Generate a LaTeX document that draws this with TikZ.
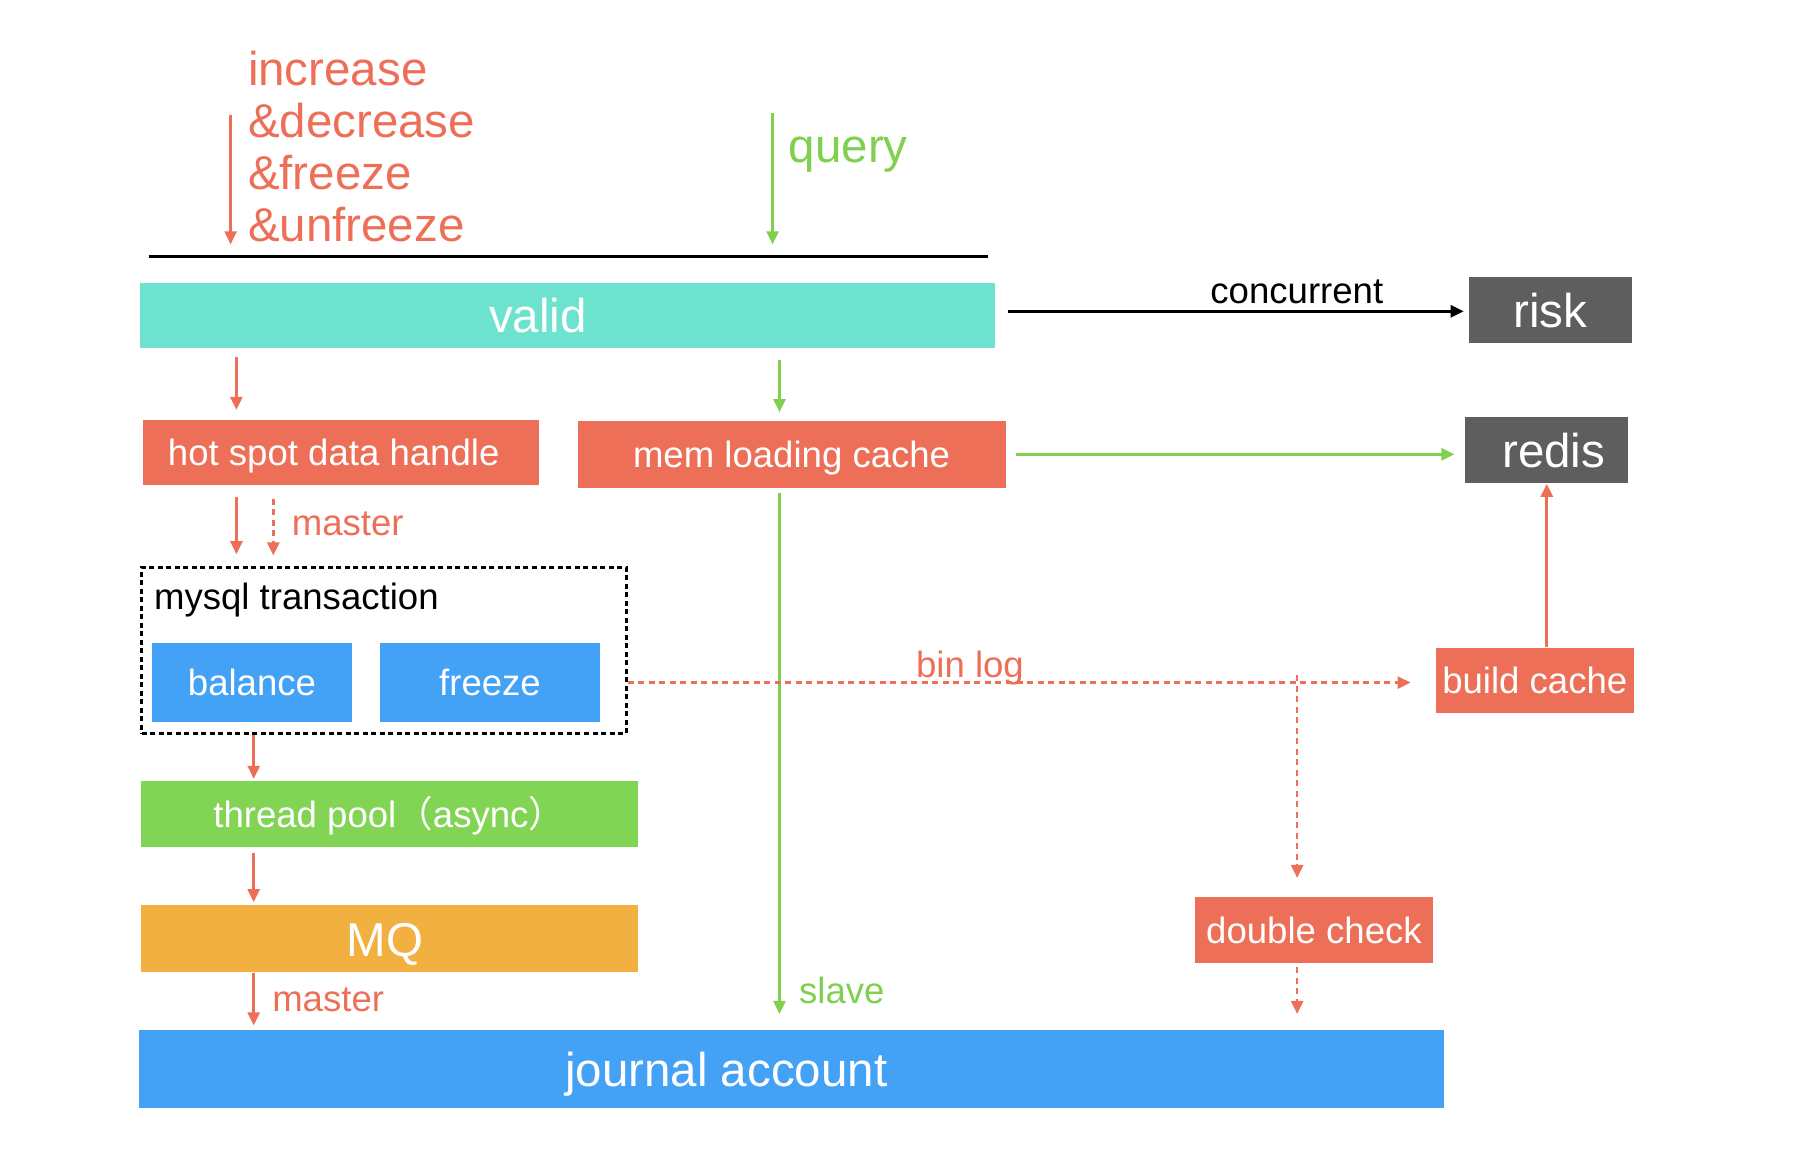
\documentclass[tikz,border=0pt]{standalone}
\usepackage{fontspec}
\setmainfont{Liberation Sans}
\newfontfamily\cjk{Noto Sans CJK SC}
\usetikzlibrary{arrows.meta,positioning,calc}
\definecolor{cred}{HTML}{EE6F58}
\definecolor{cteal}{HTML}{6CE2CF}
\definecolor{cblue}{HTML}{44A2F6}
\definecolor{cgreen}{HTML}{82D455}
\definecolor{cline}{HTML}{7ED04E}
\definecolor{corange}{HTML}{F2B040}
\definecolor{cgray}{HTML}{5E5E5E}
\newcommand\smalltxt{\fontsize{10.4}{12.5}\selectfont}
\newcommand\bigtxt{\fontsize{13.5}{14.8}\selectfont}
\begin{document}
\begin{tikzpicture}
[x=0.01cm,y=-0.01cm,>={Triangle[length=0.13cm,width=0.12cm]},
box/.style={inner sep=0,text=white,font=\smalltxt,text height=7.6pt,text depth=0pt},
bigbox/.style={box,font=\bigtxt,text height=9.9pt},
lbl/.style={inner sep=0,font=\smalltxt},
redarr/.style={->,draw=cred,line width=0.025cm},
greenarr/.style={->,draw=cline,line width=0.025cm},
reddash/.style={redarr,dash pattern=on 0.06cm off 0.045cm},]
\useasboundingbox (0,0) rectangle (1808,1160);

%Inputs on top
\coordinate (bl) at (148.7,256);
\coordinate (br) at (988.2,256);
\coordinate (in1) at (230.6,115.3);
\coordinate (in2) at (772.6,113);
\draw[line width=0.03cm] (bl) -- (br);
\draw[redarr,shorten >=0.116cm] (in1) -- (in1 |- bl)
  node[lbl,pos=.222,anchor=west,xshift=0.162cm,text=cred,font=\bigtxt,align=left]
  (ops) {increase\\\&decrease\\\&freeze\\\&unfreeze};
\draw[greenarr,shorten >=0.116cm] (in2) -- (in2 |- bl)
  node[lbl,pos=.29,anchor=west,xshift=0.15cm,text=cline,font=\bigtxt] (qry) {query};

%Boxes
\node[bigbox,fill=cteal,minimum width=8.544cm,minimum height=.657cm] (valid) at (567.9,315.4) {valid\hspace*{0.6cm}};
\node[bigbox,fill=cgray,minimum width=1.626cm,minimum height=.658cm] (risk) at (1550.3,309.6) {risk};
\node[bigbox,fill=cgray,minimum width=1.626cm,minimum height=.657cm] (redis) at (1546.8,450.3) {\hspace*{0.14cm}redis};
\node[box,fill=cred,minimum width=3.955cm,minimum height=.657cm] (hot) at (340.7,452.6) {hot spot data handle\hspace*{0.14cm}};
\node[box,fill=cred,minimum width=4.278cm,minimum height=.668cm] (mem) at (791.6,454.3) {mem loading cache};
\node[draw,line width=0.03cm,dash pattern=on 0.05cm off 0.035cm,minimum width=4.843cm,minimum height=1.66cm,inner sep=0] (sql) at (384,650.3) {};
\node[lbl,anchor=west] (sqlt) at (153.4,599.6) {mysql transaction};
\node[box,fill=cblue,minimum width=1.995cm,minimum height=.784cm] (bal) at (252,682.6) {balance};
\node[box,fill=cblue,minimum width=2.191cm,minimum height=.784cm] (frz) at (490,682.6) {freeze};
\node[box,fill=cgreen,minimum width=4.969cm,minimum height=.669cm] (pool) at (389.2,814) {thread pool{\cjk （}async{\cjk ）}};
\node[bigbox,fill=corange,minimum width=4.969cm,minimum height=.668cm] (mq) at (389.2,938.6) {MQ\hspace*{0.09cm}};
\node[bigbox,fill=cblue,minimum width=13.041cm,minimum height=.784cm] (jour) at (791.6,1068.9) {journal account\hspace*{1.304cm}};
\node[box,fill=cred,minimum width=2.387cm,minimum height=.657cm] (dc) at (1314,930) {double check};
\node[box,fill=cred,minimum width=1.983cm,minimum height=.646cm] (build) at (1534.8,680.3) {build cache};

%Columns of the vertical arrows
\coordinate (kA) at (236.4,0);
\coordinate (kB) at (273.3,0);
\coordinate (kC) at (253.7,0);
\coordinate (kD) at (779.5,0);
\coordinate (split) at (1297.2,675);

%Arrows
\draw[line width=0.03cm,->,shorten <=0.115cm,shorten >=0.046cm] ([yshift=-0.017cm]valid.east |- risk) -- ([yshift=-0.017cm]risk.west)
  node[lbl,pos=.637,yshift=0.19cm] (conc) {concurrent};
\draw[redarr,shorten <=0.08cm,shorten >=0.092cm] (valid.south -| kA) -- (hot.north -| kA);
\draw[greenarr,shorten <=0.115cm,shorten >=0.08cm] (valid.south -| kD) -- (mem.north -| kD);
\draw[greenarr,shorten <=0.092cm,shorten >=0.103cm] (mem.east) -- (redis.west |- mem.east);
\draw[redarr,shorten <=0.104cm,shorten >=0.115cm] (hot.south -| kA) -- (sql.north -| kA);
\draw[reddash,shorten <=0.126cm,shorten >=0.103cm] (hot.south -| kB) -- (sql.north -| kB)
  node[lbl,pos=.479,anchor=west,xshift=0.173cm,text=cred] (mst1) {master};
\draw[redarr,shorten >=0.01cm] (sql.south -| kC) -- (pool.north -| kC);
\draw[redarr,shorten <=0.046cm,shorten >=0.023cm] (pool.south -| kC) -- (mq.north -| kC);
\draw[redarr,shorten >=0.035cm] (mq.south -| kC) -- (jour.north -| kC)
  node[lbl,pos=.48,anchor=west,xshift=0.173cm,text=cred] (mst2) {master};
\draw[greenarr,shorten <=0.047cm,shorten >=0.15cm] (mem.south -| kD) -- (jour.north -| kD)
  node[lbl,pos=.928,anchor=west,xshift=0.184cm,text=cline] (slv) {slave};
\draw[reddash,dash pattern=on 0.06cm off 0.045cm,shorten >=0.242cm] (sql.east |- bal) -- (build.west |- bal)
  node[lbl,pos=.424,yshift=0.15cm,text=cred] (binlog) {bin log};
\draw[reddash,shorten >=0.185cm] (split) -- (dc.north -| split);
\draw[reddash,shorten <=0.035cm,shorten >=0.15cm] (dc.south -| split) -- (jour.north -| split);
\draw[redarr,line width=0.03cm] (build.north -| redis) -- (redis.south);
\end{tikzpicture}
\end{document}
